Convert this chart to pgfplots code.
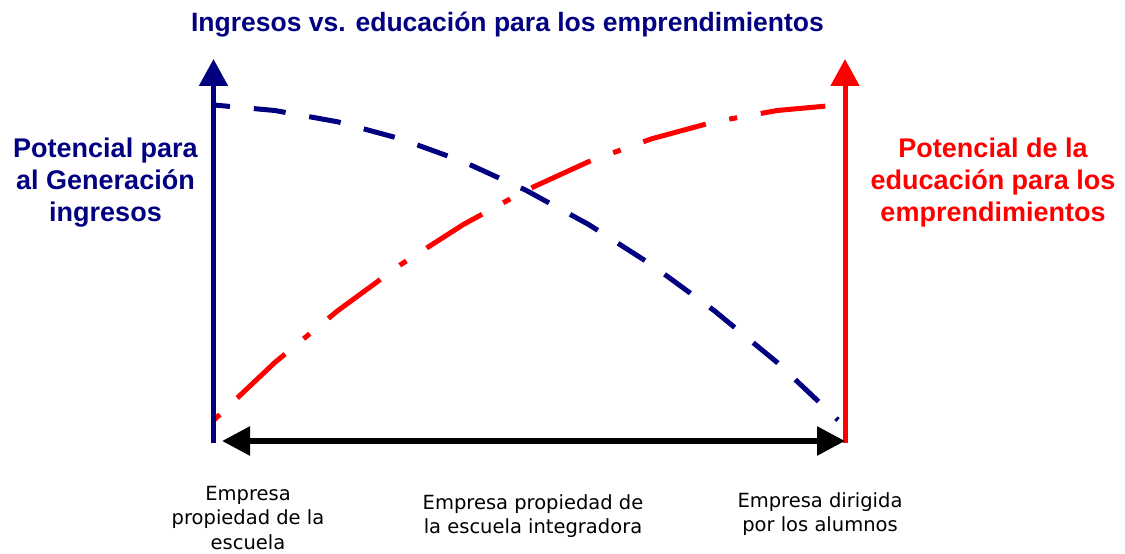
\documentclass[border=0pt]{standalone}
\usepackage{fontspec}
\setmainfont{Liberation Sans}
\newfontfamily\verd{DejaVu Sans}
\usepackage{pgfplots}
\pgfplotsset{compat=1.18}
\usetikzlibrary{arrows.meta}
\definecolor{navy}{RGB}{0,0,128}
\definecolor{myred}{RGB}{255,0,0}
\begin{document}
\begin{tikzpicture}
\begin{axis}[width=1125bp,height=549bp,scale only axis,
  xmin=0,xmax=1125,ymin=0,ymax=549,hide axis,clip=false]
% income curve (dashed navy)
\addplot[navy,line width=5bp,dash pattern=on 32bp off 24bp,dash phase=16bp] coordinates {
(214,444) (274.8,438.5) (337.6,427.2) (400.4,410.2) (463.2,387.4) (526,358.7)
(588.8,324.4) (651.6,284.2) (714.4,238.2) (777.2,186.5) (838,129)};
% education curve (dash-dot red)
\addplot[myred,line width=5bp,dash pattern=on 8bp off 24bp on 65bp off 24bp] coordinates {
(214,129) (274.8,186.5) (337.6,238.2) (400.4,284.2) (463.2,324.4) (526,358.7)
(588.8,387.4) (651.6,410.2) (714.4,427.2) (777.2,438.5) (838,444)};
% vertical axes arrows
\addplot[navy,line width=5bp,-{Triangle[length=27bp,width=28bp]}] coordinates {(213.5,106) (213.5,490)};
\addplot[myred,line width=5bp,-{Triangle[length=27bp,width=28bp]}] coordinates {(845,106) (845,490)};
% horizontal double arrow
\addplot[black,line width=6bp,{Triangle[length=28bp,width=28bp]}-{Triangle[length=28bp,width=28bp]}] coordinates {(222,108) (845,108)};
% texts
\node[navy,font=\fontsize{26.5bp}{32bp}\selectfont\bfseries] at (axis cs:507.5,524) {Ingresos vs. educación para los emprendimientos};
\node[navy,align=center,font=\fontsize{27bp}{32bp}\selectfont\bfseries] at (axis cs:105.5,366) {Potencial para\\al Generación\\ingresos};
\node[myred,align=center,font=\fontsize{27bp}{32bp}\selectfont\bfseries] at (axis cs:993,366) {Potencial de la\\educación para los\\emprendimientos};
\node[black,align=center,font=\verd\fontsize{19.5bp}{24.5bp}\selectfont] at (axis cs:248,31) {Empresa\\propiedad de la\\escuela};
\node[black,align=center,font=\verd\fontsize{19.5bp}{24.5bp}\selectfont] at (axis cs:533,33) {Empresa propiedad de\\la escuela integradora};
\node[black,align=center,font=\verd\fontsize{19.5bp}{24.5bp}\selectfont] at (axis cs:820,35) {Empresa dirigida\\por los alumnos};
\end{axis}
\path (current axis.south west) rectangle (current axis.north east);
\end{tikzpicture}
\end{document}
